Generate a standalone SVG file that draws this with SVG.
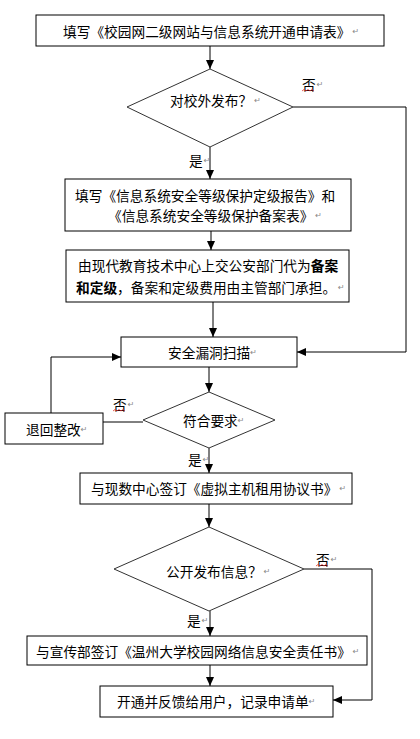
<svg xmlns="http://www.w3.org/2000/svg" width="420" height="739" viewBox="0 0 420 739">
<style>
.box{fill:#fff;stroke:#000;stroke-width:1}
.dia{fill:#fff;stroke:#333;stroke-width:1}
.t{font-family:"Noto Sans CJK SC","Liberation Sans",sans-serif;font-size:13.7px;fill:#000;dominant-baseline:central}
.b{font-weight:bold}
.r{font-family:"DejaVu Sans",sans-serif;font-size:8px;fill:#888}
.c{fill:none;stroke:#000;stroke-width:1}
.sq{fill:none;stroke:#e03030;stroke-width:0.8}
</style>
<defs>
<marker id="ah" markerUnits="userSpaceOnUse" markerWidth="9" markerHeight="8" refX="9" refY="4" orient="auto">
<path d="M0,0 L9,4 L0,8 z" fill="#000"/>
</marker>
</defs>
<g id="connectors">
<line class="c" x1="210" y1="46" x2="210" y2="69" marker-end="url(#ah)"/>
<line class="c" x1="210" y1="147" x2="210" y2="179" marker-end="url(#ah)"/>
<line class="c" x1="211" y1="231" x2="211" y2="250" marker-end="url(#ah)"/>
<line class="c" x1="213" y1="302" x2="213" y2="337" marker-end="url(#ah)"/>
<polyline class="c" points="293,107 406,107 406,352 297,352" marker-end="url(#ah)"/>
<line class="c" x1="209" y1="367" x2="209" y2="392" marker-end="url(#ah)"/>
<line class="c" x1="143" y1="422" x2="103" y2="422"/>
<polyline class="c" points="51,413 51,357 121,357" marker-end="url(#ah)"/>
<line class="c" x1="209" y1="448" x2="209" y2="473" marker-end="url(#ah)"/>
<line class="c" x1="209" y1="504" x2="209" y2="527" marker-end="url(#ah)"/>
<polyline class="c" points="304,569 372,569 372,700 333,700" marker-end="url(#ah)"/>
<line class="c" x1="210" y1="611" x2="210" y2="636" marker-end="url(#ah)"/>
<line class="c" x1="210" y1="665" x2="210" y2="686" marker-end="url(#ah)"/>
</g>
<g id="labels">
<text class="t" x="302" y="84">否<tspan class="r" dx="1">↵</tspan></text>
<path class="sq" d="M302,91 l2,-1.5 l2,1.5 l2,-1.5 l2,1.5 l2,-1.5 l2,1.5"/>
<text class="t" x="189" y="160">是<tspan class="r" dx="1">↵</tspan></text>
<text class="t" x="113" y="404">否<tspan class="r" dx="1">↵</tspan></text>
<path class="sq" d="M113,411 l2,-1.5 l2,1.5 l2,-1.5 l2,1.5 l2,-1.5 l2,1.5"/>
<text class="t" x="188" y="459">是<tspan class="r" dx="1">↵</tspan></text>
<text class="t" x="316" y="559">否<tspan class="r" dx="1">↵</tspan></text>
<path class="sq" d="M316,566 l2,-1.5 l2,1.5 l2,-1.5 l2,1.5 l2,-1.5 l2,1.5"/>
<text class="t" x="187" y="620">是<tspan class="r" dx="1">↵</tspan></text>
</g>
<g id="n1">
<rect class="box" x="36" y="15" width="348" height="31"/>
<text class="t" x="63" y="31">填写《校园网二级网站与信息系统开通申请表》<tspan class="r" dx="2">↵</tspan></text>
</g>
<g id="n2">
<polygon class="dia" points="210,69 293,107 210,147 127,107"/>
<text class="t" x="170" y="100">对校外发布？<tspan class="r" dx="2">↵</tspan></text>
</g>
<g id="n3">
<rect class="box" x="65" y="179" width="286" height="52"/>
<text class="t" x="75" y="195">填写《信息系统安全等级保护定级报告》和</text>
<text class="t" x="108" y="215">《信息系统安全等级保护备案表》<tspan class="r" dx="2">↵</tspan></text>
</g>
<g id="n4">
<rect class="box" x="66" y="250" width="283" height="52"/>
<text class="t" x="78" y="265">由现代教育技术中心上交公安部门代为<tspan class="b">备案</tspan></text>
<text class="t" x="76" y="287"><tspan class="b">和定级</tspan>，备案和定级费用由主管部门承担。<tspan class="r" dx="2">↵</tspan></text>
</g>
<g id="n5">
<rect class="box" x="121" y="337" width="176" height="30"/>
<text class="t" x="168" y="352">安全漏洞扫描<tspan class="r" dx="0">↵</tspan></text>
</g>
<g id="n6">
<polygon class="dia" points="209,392 275,420 209,448 143,420"/>
<text class="t" x="183" y="420">符合要求<tspan class="r" dx="0">↵</tspan></text>
</g>
<g id="n7">
<rect class="box" x="5" y="413" width="98" height="31"/>
<text class="t" x="26" y="429">退回整改<tspan class="r" dx="0">↵</tspan></text>
</g>
<g id="n8">
<rect class="box" x="80" y="473" width="272" height="31"/>
<text class="t" x="91" y="488">与现数中心签订《虚拟主机租用协议书》<tspan class="r" dx="2">↵</tspan></text>
</g>
<g id="n9">
<polygon class="dia" points="209,527 304,569 209,611 114,569"/>
<text class="t" x="166" y="571">公开发布信息？<tspan class="r" dx="2">↵</tspan></text>
</g>
<g id="n10">
<rect class="box" x="27" y="636" width="340" height="29"/>
<text class="t" x="36" y="651">与宣传部签订《温州大学校园网络信息安全责任书》<tspan class="r" dx="2">↵</tspan></text>
</g>
<g id="n11">
<rect class="box" x="100" y="686" width="233" height="31"/>
<text class="t" x="117" y="701">开通并反馈给用户，记录申请单<tspan class="r" dx="0">↵</tspan></text>
</g>
</svg>
